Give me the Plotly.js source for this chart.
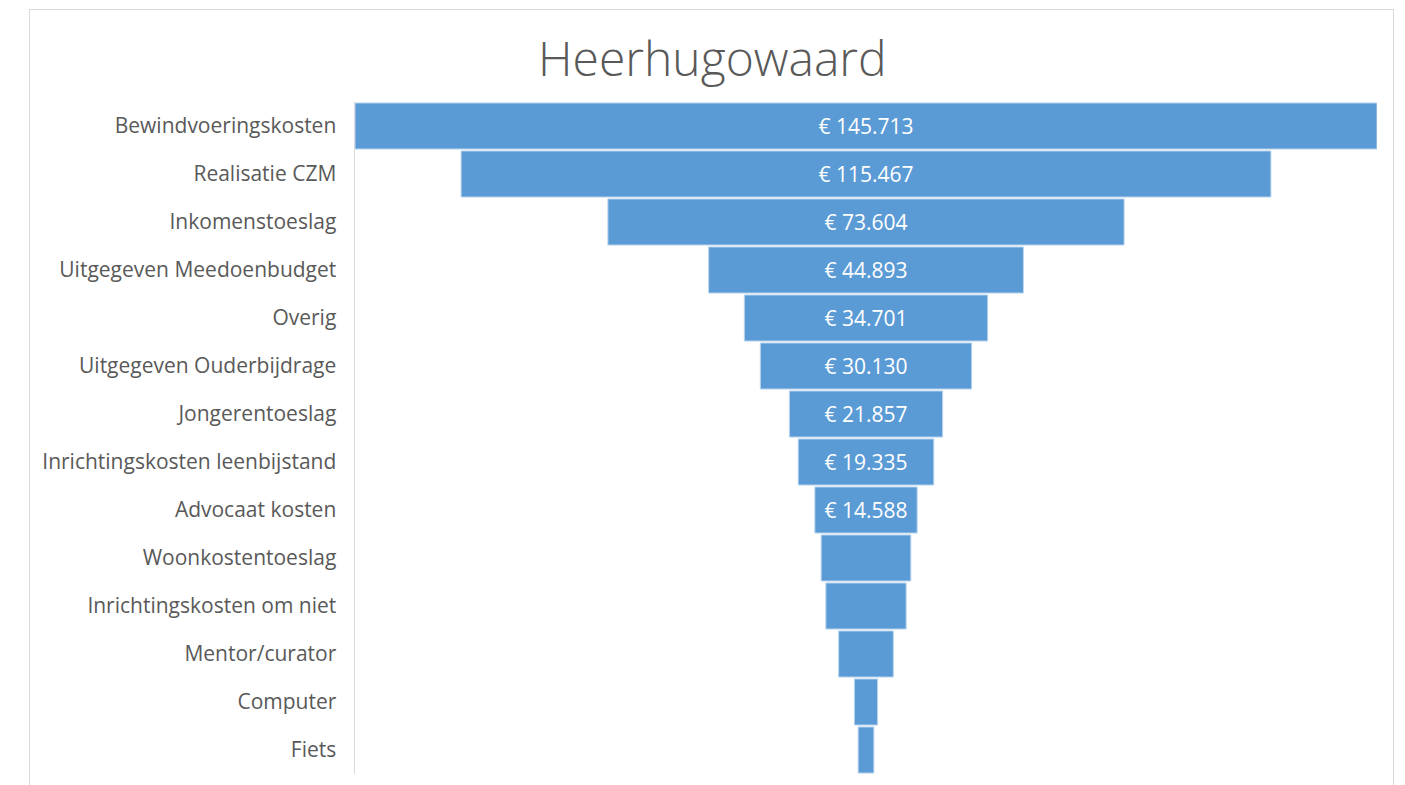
<!DOCTYPE html>
<html>
<head>
<meta charset="utf-8">
<script src="https://cdn.plot.ly/plotly-3.0.1.min.js"></script>
<style>
  html, body { margin: 0; padding: 0; background: #ffffff; }
  #chart { width: 1405px; height: 785px; }
  #frame { position: absolute; left: 29px; top: 9px; width: 1363px; height: 800px; border: 1px solid #d9d9d9; pointer-events: none; }
</style>
</head>
<body>
<div id="chart"></div>
<div id="frame"></div>
<script>
const categories = [
  "Bewindvoeringskosten",
  "Realisatie CZM",
  "Inkomenstoeslag",
  "Uitgegeven Meedoenbudget",
  "Overig",
  "Uitgegeven Ouderbijdrage",
  "Jongerentoeslag",
  "Inrichtingskosten leenbijstand",
  "Advocaat kosten",
  "Woonkostentoeslag",
  "Inrichtingskosten om niet",
  "Mentor/curator",
  "Computer",
  "Fiets"
];
const amounts = [145713, 115467, 73604, 44893, 34701, 30130, 21857, 19335, 14588, 12790, 11450, 7800, 3320, 2240];
// data labels as shown in the reference (smaller bars carry no label)
const shownLabel = [true, true, true, true, true, true, true, true, true, false, false, false, false, false];

const fmt = v => "€ " + v.toLocaleString("nl-NL");
const labels = amounts.map((v, i) => shownLabel[i] ? fmt(v) : "");
const maxVal = Math.max(...amounts);

const trace = {
  type: "funnel",
  y: categories,
  x: amounts,
  text: labels,
  textinfo: "text",
  textposition: "inside",
  insidetextanchor: "middle",
  textfont: { family: "Open Sans, sans-serif", size: 21, color: "#ffffff" },
  marker: { color: "#5B9BD5", line: { color: "#bcd6ee", width: 1 } },
  connector: { visible: false },
  hoverinfo: "y+x"
};

const layout = {
  width: 1405,
  height: 785,
  margin: { l: 355, r: 28, t: 102, b: 11 },
  paper_bgcolor: "#ffffff",
  plot_bgcolor: "#ffffff",
  funnelgap: 0.04,
  showlegend: false,
  title: {
    text: "Heerhugowaard",
    font: { family: "Open Sans, sans-serif", size: 48, color: "#595959", weight: 300 },
    xref: "container", x: 0.507, xanchor: "center",
    yref: "container", y: 0.925, yanchor: "middle"
  },
  xaxis: { visible: false, range: [-maxVal / 2, maxVal / 2], fixedrange: true },
  yaxis: {
    showline: true, linecolor: "#d9d9d9", linewidth: 1.5,
    showgrid: false, zeroline: false, ticks: "",
    ticklabelstandoff: 13,
    tickfont: { family: "Open Sans, sans-serif", size: 21, color: "#595959" }
  }
};

Plotly.newPlot("chart", [trace], layout, { displayModeBar: false, staticPlot: true });
</script>
</body>
</html>
